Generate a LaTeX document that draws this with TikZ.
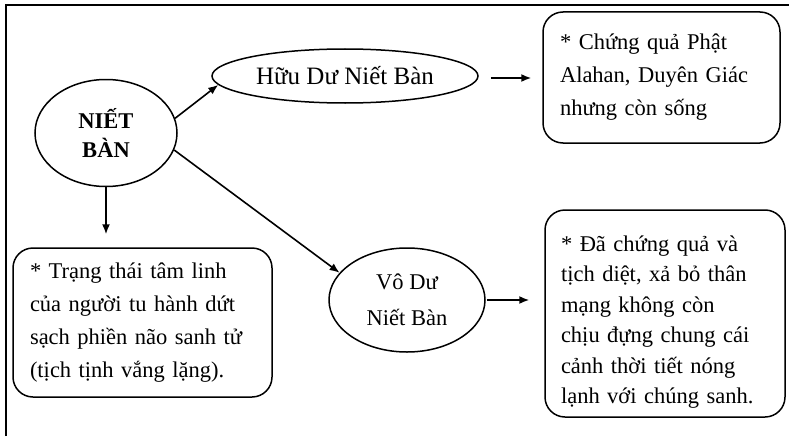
\documentclass[tikz,border=0pt]{standalone}
\usepackage{fontspec}
\setmainfont{Liberation Serif}
\usetikzlibrary{shapes.geometric,arrows.meta,calc}
\begin{document}
\begin{tikzpicture}[x=1pt,y=-1pt,
  every node/.style={font=\fontsize{22.5}{33}\selectfont},
  oval/.style={ellipse, draw, line width=1.5pt, inner sep=0pt, align=center},
  textbox/.style={draw, line width=1.5pt, rounded corners=20pt, inner xsep=17pt, inner ysep=0pt, align=left},
  arr/.style={line width=1.6pt, -{Latex[length=10pt,width=8pt]}},
  framestyle/.style={line width=2.2pt}]
\useasboundingbox (0,0) rectangle (789,436);
\coordinate (fb) at (6,436);
\coordinate (ftl) at (6,5);
\coordinate (fr) at (789,5);
\draw[framestyle] (fb) -- (ftl) -- (fr);

\node[oval, minimum width=142pt, minimum height=107pt,
      font=\fontsize{22.5}{29}\selectfont\bfseries] (nb) at (106,133) {NIẾT\\BÀN};
\node[oval, minimum width=266pt, minimum height=54pt,
      font=\fontsize{25}{30}\selectfont] (huu) at (345,76) {Hữu Dư Niết Bàn};
\node[oval, minimum width=156pt, minimum height=104pt,
      font=\fontsize{22.5}{36}\selectfont] (vo) at (407,300) {Vô Dư\\Niết Bàn};

\node[textbox, text width=203pt, minimum height=131pt] (b1) at (661.5,77.5)
  {* Chứng quả Phật\\Alahan, Duyên Giác\\nhưng còn sống};
\node[textbox, text width=225pt, minimum height=149pt] (b3) at (142.5,322.5)
  {* Trạng thái tâm linh\\của người tu hành dứt\\sạch phiền não sanh tử\\(tịch tịnh vắng lặng).};
\node[textbox, minimum width=240pt, minimum height=207pt] (b4) at (665,313.5) {};
\node[align=left, text width=208pt, inner sep=0pt,
      font=\fontsize{22.5}{30.5}\selectfont] (b4t) at (665,322)
  {* Đã chứng quả và\\tịch diệt, xả bỏ thân\\mạng không còn\\chịu đựng chung cái\\cảnh thời tiết nóng\\lạnh với chúng sanh.};

\draw[arr] (nb.12) -- (huu.184);
\draw[arr] (nb.-14) -- (vo.158);
\draw[arr, shorten >=13pt] (nb.south) -- (nb.south |- b3.north);
\draw[arr, shorten <=12pt, shorten >=11pt] ([yshift=-2pt]huu.east) -- ([yshift=-2pt]b1.west |- huu.east);
\draw[arr, shorten <=1pt, shorten >=15pt] (vo.east) -- (b4.west |- vo.east);
\end{tikzpicture}
\end{document}
